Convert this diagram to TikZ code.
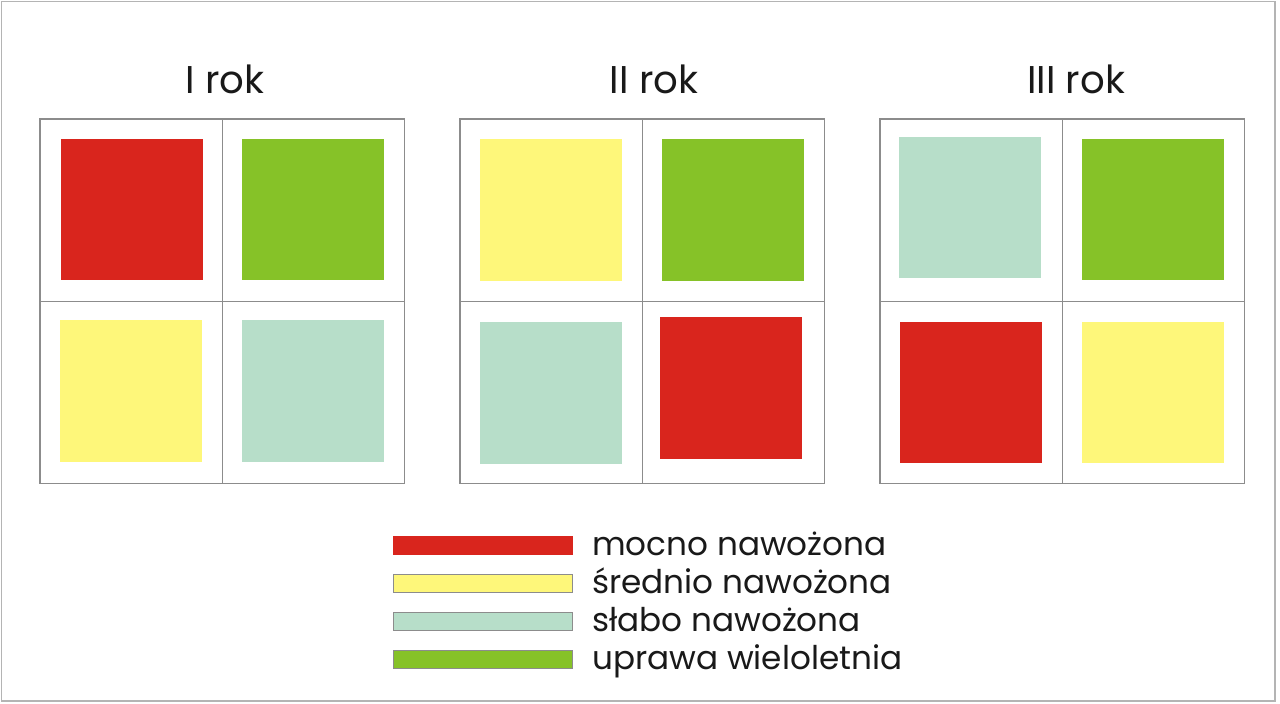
\documentclass[tikz,border=0pt]{standalone}
\usepackage{fontspec}
\setmainfont{Poppins}
\definecolor{cred}{HTML}{D9251D}
\definecolor{cgreen}{HTML}{86C228}
\definecolor{cyellow}{HTML}{FEF77A}
\definecolor{cteal}{HTML}{B7DEC9}
\definecolor{cgrid}{HTML}{8C8C8C}
\definecolor{cframe}{HTML}{B4B4B4}
\begin{document}
\begin{tikzpicture}[x=0.75pt,y=-0.75pt,
  gridline/.style={draw=cgrid,line width=0.9pt},
  framebox/.style={draw=cframe,line width=1.2pt},
  title/.style={anchor=base,font=\fontsize{29}{34}\selectfont,text=black!90,inner sep=0pt},
  legtext/.style={anchor=base west,font=\fontsize{24.5}{29}\selectfont,text=black!90,inner sep=0pt},
  legbar/.style={draw=black!45,line width=0.4pt}]
\useasboundingbox (0,0) rectangle (1280,703);
\fill[white] (0,0) rectangle (1280,703);
\draw[framebox] (1.5,1.5) rectangle (1275,701);
% titles
\node[title] (t1) at (225,93.5) {I rok};
\node[title] (t2) at (654,93.5) {II rok};
\node[title] (t3) at (1076,93.5) {III rok};
% panel 1
\fill[cred] (61,139) rectangle (203,280);
\fill[cgreen] (242,139) rectangle (384,280);
\fill[cyellow] (60,320) rectangle (202,462);
\fill[cteal] (242,320) rectangle (384,462);
% panel 2
\fill[cyellow] (480,139) rectangle (622,281);
\fill[cgreen] (662,139) rectangle (804,281);
\fill[cteal] (480,321.5) rectangle (622,463.5);
\fill[cred] (660,317) rectangle (802,459);
% panel 3
\fill[cteal] (899,137) rectangle (1041,278);
\fill[cgreen] (1082,139) rectangle (1224,280);
\fill[cred] (900,321.5) rectangle (1042,463);
\fill[cyellow] (1082,322) rectangle (1224,463);
% grids
\foreach \x in {40,460,880}{
  \draw[gridline] (\x,119) rectangle (\x+364.5,483.5);
  \draw[gridline] (\x+182.2,119) -- (\x+182.2,483.5);
  \draw[gridline] (\x,301.2) -- (\x+364.5,301.2);
}
% legend
\draw[legbar,fill=cred,draw=cred] (393,536) rectangle (572,554);
\draw[legbar,fill=cyellow] (393,574.5) rectangle (572,592.5);
\draw[legbar,fill=cteal] (393,612.5) rectangle (572,630.5);
\draw[legbar,fill=cgreen] (393,650) rectangle (572,668);
\node[legtext] (l1) at (592,555.5) {mocno nawożona};
\node[legtext] (l2) at (592,593.5) {średnio nawożona};
\node[legtext] (l3) at (592,631.5) {słabo nawożona};
\node[legtext] (l4) at (592,669.5) {uprawa wieloletnia};
\end{tikzpicture}
\end{document}
